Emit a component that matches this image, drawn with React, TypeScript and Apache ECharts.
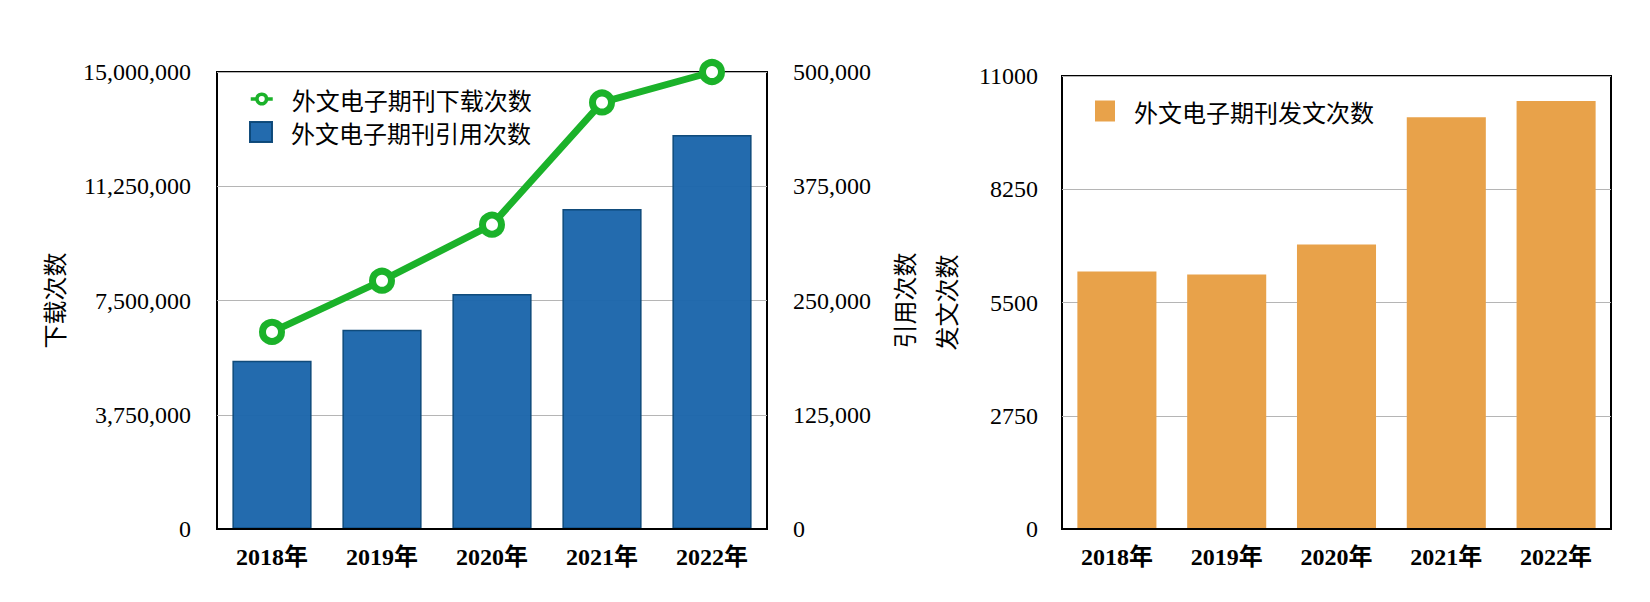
import React, { useEffect, useRef } from "react";
import * as echarts from "echarts";

const categories = ["2018年", "2019年", "2020年", "2021年", "2022年"];
const downloadCounts = [6470000, 8150000, 9990000, 14000000, 15000000];
const citationCounts = [184000, 218000, 257000, 350000, 431000];
const articleCounts = [6250, 6180, 6910, 10000, 10390];

const leftTicks = { min: 0, max: 15000000, interval: 3750000 };
const rightTicks = { min: 0, max: 500000, interval: 125000 };
const articleTicks = { min: 0, max: 11000, interval: 2750 };

const SERIF = "'Liberation Serif', 'Times New Roman', 'Noto Sans CJK SC', serif";
const CJK = "'Noto Sans CJK SC', 'Liberation Serif', sans-serif";

const withCommas = (v: number) =>
  String(v).replace(/\B(?=(\d{3})+(?!\d))/g, ",");
const plain = (v: number) => String(v);

export default function App() {
  const ref = useRef<HTMLDivElement>(null);

  useEffect(() => {
    if (!ref.current) return;
    const chart = echarts.init(ref.current, undefined, { renderer: "svg" });

    const tickLabel = {
      fontFamily: SERIF,
      fontSize: 24,
      color: "#000",
      margin: 26,
    };
    const catLabel = {
      fontFamily: SERIF,
      fontSize: 24,
      fontWeight: "bold" as const,
      color: "#000",
      margin: 16,
    };
    const nameStyle = { fontFamily: CJK, fontSize: 24, color: "#000" };
    const split = { show: true, lineStyle: { color: "#b5b5b5", width: 1 } };
    const legendText = {
      fontFamily: CJK,
      fontSize: 24,
      color: "#000",
      padding: [0, 0, 0, 14],
    };

    chart.setOption({
      animation: false,
      backgroundColor: "#fff",
      grid: [
        {
          left: 217,
          right: 883,
          top: 72,
          bottom: 73,
          show: true,
          borderColor: "#000",
          borderWidth: 2,
          backgroundColor: "transparent",
        },
        {
          left: 1062,
          right: 39,
          top: 76,
          bottom: 73,
          show: true,
          borderColor: "#000",
          borderWidth: 2,
          backgroundColor: "transparent",
        },
      ],
      legend: [
        {
          orient: "vertical",
          left: 249,
          top: 87,
          padding: 0,
          itemWidth: 22,
          itemHeight: 12,
          textStyle: legendText,
          data: [
            {
              name: "外文电子期刊下载次数",
              itemStyle: { borderWidth: 3.5 },
              lineStyle: { width: 3.5 },
            },
          ],
        },
        {
          orient: "vertical",
          left: 249,
          top: 120,
          padding: 0,
          itemWidth: 22,
          itemHeight: 20,
          textStyle: legendText,
          data: [{ name: "外文电子期刊引用次数", icon: "rect" }],
        },
        {
          orient: "vertical",
          left: 1095,
          top: 99,
          padding: 0,
          itemWidth: 20,
          itemHeight: 21,
          textStyle: legendText,
          data: [{ name: "外文电子期刊发文次数", icon: "rect" }],
        },
      ],
      xAxis: [
        {
          type: "category",
          gridIndex: 0,
          data: categories,
          z: 5,
          axisLine: { show: true, lineStyle: { color: "#000", width: 2 } },
          axisTick: { show: false },
          axisLabel: catLabel,
        },
        {
          type: "category",
          gridIndex: 1,
          data: categories,
          z: 5,
          axisLine: { show: true, lineStyle: { color: "#000", width: 2 } },
          axisTick: { show: false },
          axisLabel: catLabel,
        },
      ],
      yAxis: [
        {
          type: "value",
          gridIndex: 0,
          position: "left",
          ...leftTicks,
          name: "下载次数",
          nameLocation: "middle",
          nameGap: 152,
          nameTextStyle: nameStyle,
          axisLine: { show: false },
          axisTick: { show: false },
          axisLabel: { ...tickLabel, formatter: withCommas },
          splitLine: split,
        },
        {
          type: "value",
          gridIndex: 0,
          position: "right",
          ...rightTicks,
          name: "引用次数",
          nameLocation: "middle",
          nameGap: 124,
          nameTextStyle: nameStyle,
          axisLine: { show: false },
          axisTick: { show: false },
          axisLabel: { ...tickLabel, formatter: withCommas },
          splitLine: { show: false },
        },
        {
          type: "value",
          gridIndex: 1,
          position: "left",
          ...articleTicks,
          name: "发文次数",
          nameLocation: "middle",
          nameGap: 105,
          nameTextStyle: nameStyle,
          axisLine: { show: false },
          axisTick: { show: false },
          axisLabel: { ...tickLabel, margin: 24, formatter: plain },
          splitLine: split,
        },
      ],
      series: [
        {
          name: "外文电子期刊引用次数",
          type: "bar",
          xAxisIndex: 0,
          yAxisIndex: 1,
          data: citationCounts,
          barCategoryGap: "28%",
          itemStyle: {
            color: "#1c66ab",
            borderColor: "#0b4778",
            borderWidth: 1.5,
            opacity: 0.97,
          },
          z: 2,
        },
        {
          name: "外文电子期刊下载次数",
          type: "line",
          xAxisIndex: 0,
          yAxisIndex: 0,
          data: downloadCounts,
          symbol: "circle",
          symbolSize: 19,
          lineStyle: { color: "#1bb22a", width: 7 },
          itemStyle: { color: "#fff", borderColor: "#1bb22a", borderWidth: 7 },
          z: 10,
        },
        {
          name: "外文电子期刊发文次数",
          type: "bar",
          xAxisIndex: 1,
          yAxisIndex: 2,
          data: articleCounts,
          barCategoryGap: "28%",
          itemStyle: { color: "#e8a24a" },
          z: 2,
        },
      ],
    });

    return () => chart.dispose();
  }, []);

  return (
    <div
      ref={ref}
      style={{ position: "fixed", left: 0, top: 0, width: 1650, height: 602 }}
    />
  );
}
